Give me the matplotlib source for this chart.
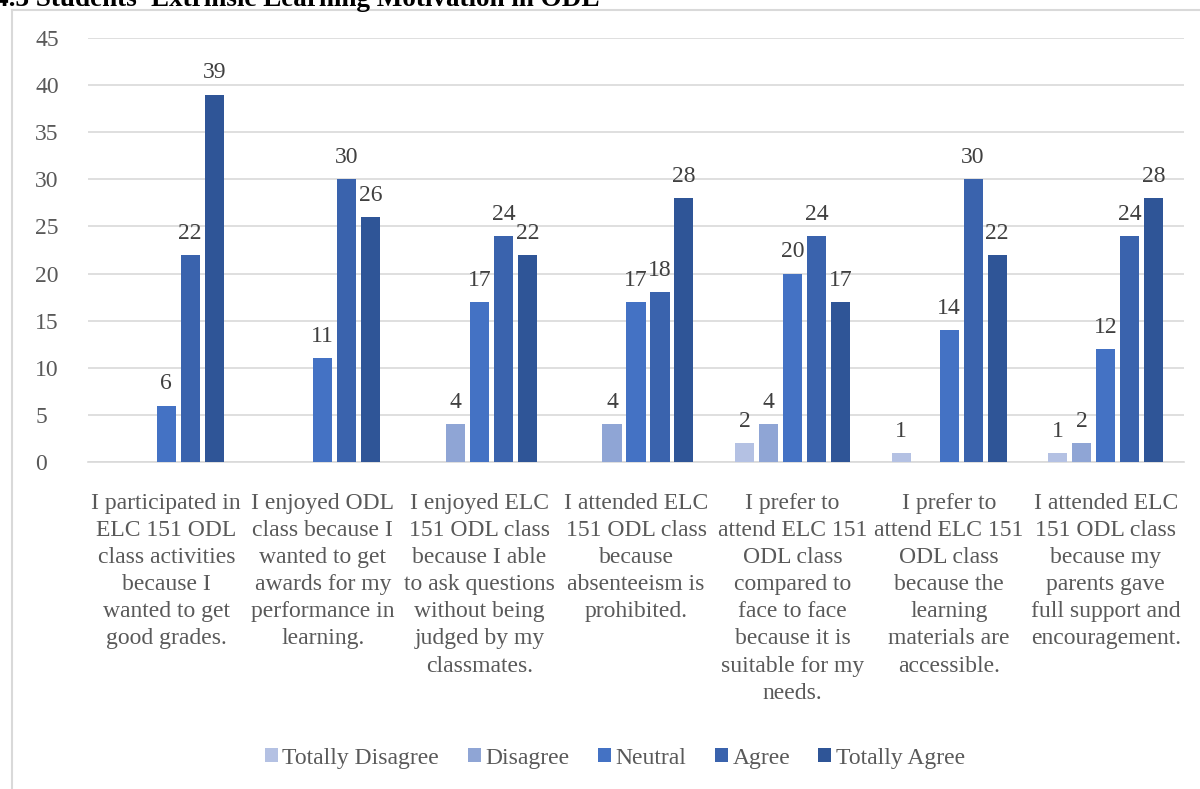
import matplotlib
matplotlib.use('Agg')
import matplotlib.pyplot as plt
import numpy as np

plt.rcParams['font.family'] = ['Liberation Serif', 'DejaVu Serif']

categories = [
    "I participated in\nELC 151 ODL\nclass activities\nbecause I\nwanted to get\ngood grades.",
    "I enjoyed ODL\nclass because I\nwanted to get\nawards for my\nperformance in\nlearning.",
    "I enjoyed ELC\n151 ODL class\nbecause I able\nto ask questions\nwithout being\njudged by my\nclassmates.",
    "I attended ELC\n151 ODL class\nbecause\nabsenteeism is\nprohibited.",
    "I prefer to\nattend ELC 151\nODL class\ncompared to\nface to face\nbecause it is\nsuitable for my\nneeds.",
    "I prefer to\nattend ELC 151\nODL class\nbecause the\nlearning\nmaterials are\naccessible.",
    "I attended ELC\n151 ODL class\nbecause my\nparents gave\nfull support and\nencouragement.",
]
series_names = ["Totally Disagree", "Disagree", "Neutral", "Agree", "Totally Agree"]
totally_disagree = [0, 0, 0, 0, 2, 1, 1]
disagree = [0, 0, 4, 4, 4, 0, 2]
neutral = [6, 11, 17, 17, 20, 14, 12]
agree = [22, 30, 24, 18, 24, 30, 24]
totally_agree = [39, 26, 22, 28, 17, 22, 28]
series = [totally_disagree, disagree, neutral, agree, totally_agree]
colors = ['#B4C1E3', '#8FA5D5', '#4472C4', '#3A63AD', '#2F5597']

fig = plt.figure(figsize=(12, 7.89), dpi=100)
ax = fig.add_axes([0.0733, 0.4144, 0.9134, 0.5374])

x = np.arange(len(categories))
slot = 0.153
width = 0.122
for i, (vals, name, c) in enumerate(zip(series, series_names, colors)):
    pos = x + (i - 2) * slot
    bars = ax.bar(pos, vals, width, color=c, label=name, zorder=3)
    for b, v in zip(bars, vals):
        if v:
            ax.annotate(str(v), (b.get_x() + b.get_width() / 2, v),
                        xytext=(0, 8), textcoords='offset points',
                        ha='center', va='bottom', fontsize=17, color='#404040')

ax.set_xlim(-0.5, len(categories) - 0.5)
ax.set_ylim(0, 45)
ax.set_yticks(range(0, 46, 5))
ax.grid(axis='y', color='#D9D9D9', linewidth=1.2, zorder=0)
for s in ['top', 'right', 'left']:
    ax.spines[s].set_visible(False)
ax.spines['bottom'].set_color('#D9D9D9')
ax.spines['bottom'].set_linewidth(1.2)
ax.tick_params(axis='both', length=0, labelsize=17, labelcolor='#595959')
ax.tick_params(axis='y', pad=38)
ax.set_xticks(x)
ax.set_xticklabels(categories, fontsize=17, color='#595959', linespacing=1.385)
ax.tick_params(axis='x', pad=22)
for t in ax.get_yticklabels():
    t.set_horizontalalignment('left')

fig.legend(loc='center', bbox_to_anchor=(0.5125, 0.039), ncol=5, frameon=False,
           fontsize=17, labelcolor='#595959', handlelength=0.55, handleheight=0.55,
           handletextpad=0.2, columnspacing=1.2)

# chart frame
fig.add_artist(plt.Line2D([0.01, 0.01], [0, 0.987], color='#D9D9D9', lw=1.5,
                          transform=fig.transFigure))
fig.add_artist(plt.Line2D([0.01, 1.0], [0.987, 0.987], color='#D9D9D9', lw=1.5,
                          transform=fig.transFigure))

fig.text(-0.004, 1 - 6 / 789, "4.3 Students' Extrinsic Learning Motivation in ODL",
         fontsize=19.5, fontweight='bold', va='baseline', ha='left', color='black')

fig.savefig('out.png', dpi=100)
